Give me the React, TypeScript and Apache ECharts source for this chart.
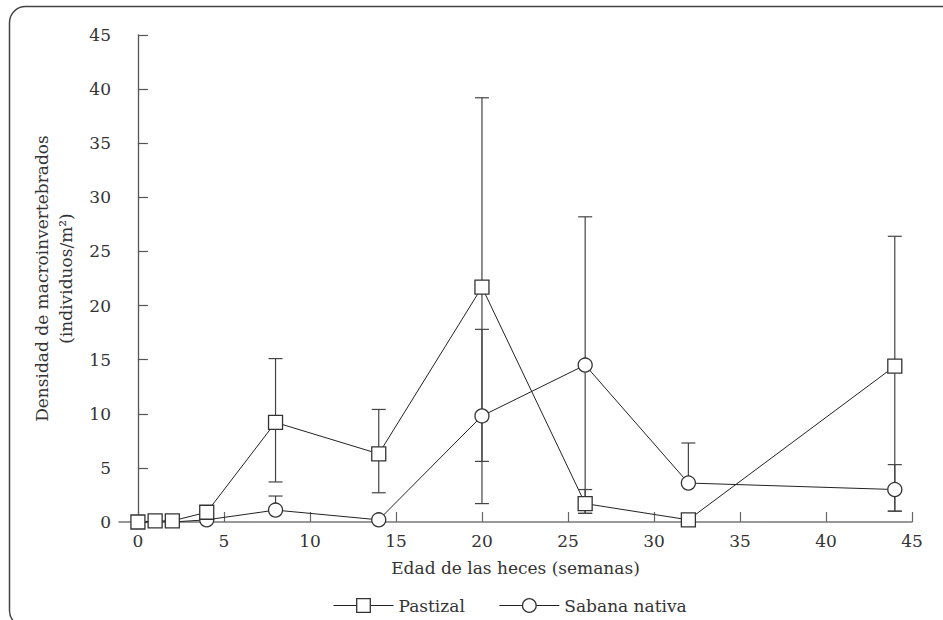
import React, { useEffect, useRef } from "react";
import * as echarts from "echarts";

const weeks = [0, 1, 2, 4, 8, 14, 20, 26, 32, 44];
const pastizal = [0, 0.1, 0.1, 0.9, 9.2, 6.3, 21.7, 1.7, 0.2, 14.4];
const pastizalLow = [null, null, null, null, 3.7, 2.7, 5.6, 0.8, null, 1.0];
const pastizalHigh = [null, null, null, null, 15.1, 10.4, 39.2, 3.0, null, 26.4];
const sabana = [0, 0, 0, 0.2, 1.1, 0.2, 9.8, 14.5, 3.6, 3.0];
const sabanaLow = [null, null, null, null, 1.1, null, 1.7, 0.8, 3.6, 1.0];
const sabanaHigh = [null, null, null, null, 2.4, null, 17.8, 28.2, 7.3, 5.3];
const sabanaHiddenMarkers = [true, true, true, false, false, false, false, false, false, false];
const xTicks = [0, 5, 10, 15, 20, 25, 30, 35, 40, 45];

const FONT = "DejaVu Serif";
const TXT = "#333";

function errData(low: (number | null)[], high: (number | null)[]) {
  const out: number[][] = [];
  weeks.forEach((w, i) => {
    const lo = low[i];
    const hi = high[i];
    if (lo !== null && hi !== null) out.push([w, lo, hi]);
  });
  return out;
}

const renderErr = (params: any, api: any) => {
  const x = api.value(0);
  const lo = api.coord([x, api.value(1)]);
  const hi = api.coord([x, api.value(2)]);
  const hw = 7;
  const style = { stroke: "#444", lineWidth: 1.2, fill: "none" };
  return {
    type: "group",
    children: [
      { type: "line", shape: { x1: lo[0], y1: lo[1], x2: hi[0], y2: hi[1] }, style },
      { type: "line", shape: { x1: hi[0] - hw, y1: hi[1], x2: hi[0] + hw, y2: hi[1] }, style },
      { type: "line", shape: { x1: lo[0] - hw, y1: lo[1], x2: lo[0] + hw, y2: lo[1] }, style },
    ],
  };
};

export default function App() {
  const ref = useRef<HTMLDivElement>(null);
  useEffect(() => {
    if (!ref.current) return;
    const chart = echarts.init(ref.current, null, { renderer: "svg" });
    const markerStyle = { color: "#fff", borderColor: "#333", borderWidth: 1.3 };
    chart.setOption({
      animation: false,
      backgroundColor: "#fff",
      textStyle: { fontFamily: FONT, color: TXT },
      graphic: [
        {
          type: "rect",
          shape: { x: 9.5, y: 6.5, width: 1000, height: 620, r: 16 },
          style: { fill: "none", stroke: "#444", lineWidth: 1.5 },
          silent: true,
        },
      ],
      grid: { left: 119, right: 31, top: 35, bottom: 98, containLabel: false },
      legend: {
        data: ["Pastizal", "Sabana nativa"],
        left: 328,
        top: 592,
        itemWidth: 60,
        itemHeight: 17,
        itemGap: 34,
        lineStyle: { width: 1, color: "#222" },
        itemStyle: { color: "#fff", borderColor: "#333", borderWidth: 1.3 },
        textStyle: { fontFamily: FONT, fontSize: 17, color: TXT },
      },
      xAxis: {
        type: "value",
        min: -1.1,
        max: 45,
        name: "Edad de las heces (semanas)",
        nameLocation: "middle",
        nameGap: 37,
        nameTextStyle: { fontFamily: FONT, fontSize: 17, color: TXT },
        axisLine: { show: true, lineStyle: { color: "#777", width: 1.5 } },
        axisTick: { show: true, inside: true, length: 10, customValues: xTicks, lineStyle: { color: "#666", width: 1.2 } },
        axisLabel: { customValues: xTicks, margin: 10, fontFamily: FONT, fontSize: 17, color: TXT },
        splitLine: { show: false },
      },
      yAxis: {
        type: "value",
        min: 0,
        max: 45,
        interval: 5,
        name: "Densidad de macroinvertebrados\n(individuos/m²)",
        nameLocation: "middle",
        nameRotate: 90,
        nameGap: 34,
        nameTextStyle: { fontFamily: FONT, fontSize: 17, color: TXT, lineHeight: 24 },
        axisLine: { show: true, lineStyle: { color: "#555", width: 1.3 } },
        axisTick: { show: true, inside: true, length: 10, lineStyle: { color: "#555", width: 1.2 } },
        axisLabel: { margin: 8, fontFamily: FONT, fontSize: 17, color: TXT },
        splitLine: { show: false },
      },
      series: [
        {
          type: "custom",
          name: "errP",
          renderItem: renderErr,
          data: errData(pastizalLow, pastizalHigh),
          encode: { x: 0, y: [1, 2] },
          z: 1,
          silent: true,
        },
        {
          type: "custom",
          name: "errS",
          renderItem: renderErr,
          data: errData(sabanaLow, sabanaHigh),
          encode: { x: 0, y: [1, 2] },
          z: 1,
          silent: true,
        },
        {
          type: "line",
          name: "Sabana nativa",
          symbol: "circle",
          symbolSize: 14,
          data: weeks.map((w, i) => ({
            value: [w, sabana[i]],
            symbolSize: sabanaHiddenMarkers[i] ? 0 : 14,
          })),
          lineStyle: { color: "#222", width: 1 },
          itemStyle: markerStyle,
          z: 3,
        },
        {
          type: "line",
          name: "Pastizal",
          symbol: "rect",
          symbolSize: 14,
          data: weeks.map((w, i) => [w, pastizal[i]]),
          lineStyle: { color: "#222", width: 1 },
          itemStyle: markerStyle,
          z: 4,
        },
      ],
    });
    return () => chart.dispose();
  }, []);
  return <div ref={ref} style={{ width: 943, height: 620, position: "absolute", left: 0, top: 0 }} />;
}
